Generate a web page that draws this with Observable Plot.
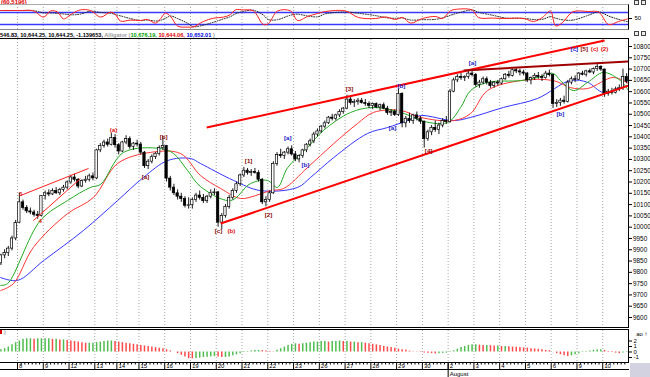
<!DOCTYPE html>
<html><head><meta charset="utf-8">
<script src="https://cdn.jsdelivr.net/npm/d3@7"></script>
<script src="https://cdn.jsdelivr.net/npm/@observablehq/plot@0.6"></script>
<style>
body{margin:0;background:#fff;width:650px;height:377px;overflow:hidden;position:relative;font-family:Arial,"Liberation Sans",sans-serif}
.p{position:absolute;left:0}
.b{position:absolute;box-sizing:border-box;pointer-events:none}
.ic{position:absolute;width:5px;height:5px;border:1px solid #444;box-sizing:border-box;background:#eee}
</style></head><body>
<div id="osc" class="p" style="top:0"></div>
<div class="p" style="top:-1px;left:1px;font:bold 6px Arial,sans-serif;color:#e00000;line-height:7px">(60.5196)</div>
<div class="p" style="top:31px;left:0;font:bold 5.6px Arial,'Liberation Sans',sans-serif;white-space:nowrap;line-height:8px;color:#000">546.83, 10,644.25, 10,644.25, -1.139653, <span style="color:#999">Alligator (</span><span style="color:#00a000">10,676.19,</span> <span style="color:#e00000">10,644.06,</span> <span style="color:#0000e0">10,652.01</span> <span style="color:#999">)</span></div>
<div id="main" class="p" style="top:39px"></div>
<div id="ao" class="p" style="top:328px"></div>
<div class="p" style="top:330px;left:0;width:2px;height:4px;background:#e00000"></div>
<div class="p" style="top:329px;left:4px;font:5px Arial;color:#666;line-height:6px">)</div>
<div class="b" style="top:4px;left:0;width:629px;height:26px;border-top:1px solid #aaa;border-bottom:1px solid #888;border-right:1px solid #000"></div>
<div class="b" style="top:38px;left:0;width:629px;height:290px;border-top:1px solid #000;border-bottom:1px solid #000;border-right:1px solid #000"></div>
<div class="b" style="top:329px;left:0;width:629px;height:34px;border-top:1px solid #000;border-bottom:1px solid #000;border-right:1px solid #000"></div>
<div class="b" style="top:369px;left:0;width:629px;height:1px;border-top:1px solid #000"></div>
<div class="b" style="top:363px;left:630px;width:20px;height:14px;background:#d2d2e0"></div>
<div class="ic" style="top:0;left:634px"></div><div class="ic" style="top:0;left:641px"></div>
<div class="ic" style="top:31px;left:634px"></div><div class="ic" style="top:31px;left:641px"></div>
<script>
// ---------- DATA ----------
const dayLabels = ["7","8","9","12","13","14","15","16","19","20","21","22","23","26","27","28","29","30","2","3","4","5","6","9","10"];
const monthStartDay = 18;            // index in dayLabels where August starts
const monthName = "August";

const opens = [
 [9743,9790,9840,9875,9885,9905,9950],
 [10020,10110,10085,10070,10065,10055,10050],
 [10138,10150,10145,10160,10150,10165,10175],
 [10198,10220,10210,10180,10205,10210,10225],
 [10216,10340,10360,10375,10365,10395],
 [10363,10335,10375,10390,10355,10370],
 [10366,10330,10270,10290,10310,10325,10350],
 [10359,10215,10175,10150,10135,10125,10095],
 [10097,10120,10140,10130,10115,10135,10150],
 [10154,10020,10050,10090,10130,10160,10190],
 [10229,10250,10240,10245,10240,10210,10110],
 [10120,10150,10280,10320,10315,10330,10345],
 [10322,10300,10315,10340,10365,10380,10410],
 [10424,10445,10460,10485,10480,10495,10510],
 [10525,10565,10550,10555,10560,10550,10545],
 [10537,10545,10530,10540,10525,10505,10510],
 [10497,10590,10460,10480,10470,10495,10480],
 [10467,10390,10420,10440,10430,10450,10470],
 [10466,10600,10650,10665,10660,10665,10680],
 [10674,10630,10640,10655,10640,10625,10640],
 [10636,10655,10675,10670,10695,10690,10685],
 [10680,10650,10660,10670,10665,10660,10680],
 [10674,10545,10550,10560,10555,10640,10655],
 [10653,10680,10675,10690,10685,10700,10710],
 [10698,10590,10600,10595,10610,10615,10665]
];
const highs = [
 [9800,9850,9880,9900,9915,9960,10030],
 [10150,10120,10095,10085,10075,10070,10140],
 [10160,10165,10170,10175,10172,10185,10205],
 [10230,10235,10215,10210,10225,10235,10240],
 [10345,10370,10385,10390,10415,10410],
 [10370,10380,10405,10400,10375,10385],
 [10375,10335,10300,10320,10330,10360,10400],
 [10362,10225,10190,10165,10150,10135,10130],
 [10130,10150,10160,10145,10140,10165,10170],
 [10158,10060,10100,10140,10170,10200,10235],
 [10265,10260,10255,10260,10250,10215,10135],
 [10160,10290,10330,10345,10335,10355,10360],
 [10335,10320,10345,10370,10390,10420,10435],
 [10450,10470,10490,10500,10500,10520,10530],
 [10584,10575,10565,10570,10570,10565,10555],
 [10550,10550,10545,10550,10535,10520,10520],
 [10610,10595,10490,10505,10500,10510,10490],
 [10470,10430,10450,10470,10460,10480,10490],
 [10610,10660,10675,10680,10670,10690,10695],
 [10680,10650,10665,10665,10650,10645,10650],
 [10660,10680,10690,10700,10705,10700,10695],
 [10685,10665,10680,10685,10675,10690,10695],
 [10676,10565,10570,10580,10650,10665,10670],
 [10685,10690,10695,10700,10705,10720,10715],
 [10700,10610,10615,10620,10630,10700,10680]
];
const lows = [
 [9735,9785,9830,9860,9870,9895,9940],
 [10015,10075,10060,10055,10045,10035,10045],
 [10120,10135,10140,10145,10140,10155,10165],
 [10190,10200,10170,10175,10195,10200,10205],
 [10210,10330,10350,10355,10360,10350],
 [10320,10330,10365,10345,10340,10355],
 [10320,10260,10255,10280,10300,10315,10340],
 [10200,10160,10140,10120,10110,10085,10080],
 [10080,10110,10120,10105,10105,10125,10140],
 [10000,9990,10040,10080,10120,10150,10180],
 [10220,10230,10225,10235,10200,10100,10090],
 [10110,10145,10270,10305,10300,10320,10315],
 [10290,10285,10305,10330,10355,10370,10400],
 [10415,10435,10455,10470,10470,10485,10500],
 [10520,10540,10530,10540,10545,10535,10525],
 [10520,10525,10515,10520,10495,10490,10490],
 [10490,10440,10440,10460,10455,10470,10455],
 [10350,10380,10405,10420,10410,10440,10455],
 [10460,10595,10640,10650,10645,10655,10665],
 [10620,10615,10630,10630,10615,10615,10625],
 [10630,10650,10660,10665,10680,10670,10670],
 [10640,10630,10650,10655,10645,10655,10665],
 [10525,10530,10535,10545,10550,10630,10640],
 [10650,10670,10665,10680,10675,10690,10690],
 [10575,10580,10585,10590,10600,10605,10635]
];
const closes = [
 [9790,9840,9875,9885,9905,9950,10018],
 [10110,10085,10070,10065,10055,10050,10138],
 [10150,10145,10160,10150,10165,10175,10198],
 [10220,10210,10180,10205,10210,10225,10216],
 [10340,10360,10375,10365,10395,10363],
 [10335,10375,10390,10355,10370,10366],
 [10330,10270,10290,10310,10325,10350,10359],
 [10215,10175,10150,10135,10125,10095,10097],
 [10120,10140,10130,10115,10135,10150,10154],
 [10020,10050,10090,10130,10160,10190,10229],
 [10250,10240,10245,10240,10210,10110,10120],
 [10150,10280,10320,10315,10330,10345,10322],
 [10300,10315,10340,10365,10380,10410,10424],
 [10445,10460,10485,10480,10495,10510,10525],
 [10565,10550,10555,10560,10550,10545,10537],
 [10545,10530,10540,10525,10505,10510,10497],
 [10590,10460,10480,10470,10495,10480,10467],
 [10390,10420,10440,10430,10450,10470,10466],
 [10600,10650,10665,10660,10665,10680,10674],
 [10630,10640,10655,10640,10625,10640,10636],
 [10655,10675,10670,10695,10690,10685,10680],
 [10650,10660,10670,10665,10660,10680,10674],
 [10545,10550,10560,10555,10640,10655,10653],
 [10680,10675,10690,10685,10700,10710,10698],
 [10590,10600,10595,10610,10615,10665,10644]
];
const aoValues = [
 [0.1,0.2,0.4,0.6,0.9,1.3,1.7],
 [2.0,2.3,2.4,2.4,2.3,2.4,2.4],
 [2.4,2.4,2.3,2.3,2.2,2.2,2.1],
 [2.0,1.9,1.8,1.7,1.6,1.6,1.6],
 [1.7,1.8,1.9,2.0,2.0,1.9],
 [1.8,1.7,1.6,1.5,1.4,1.3],
 [1.2,1.1,1.0,0.9,0.8,0.7,0.6],
 [0.4,0.2,0.0,-0.3,-0.6,-0.9,-1.2],
 [-1.25,-1.2,-1.1,-1.0,-0.95,-0.9,-0.85],
 [-0.9,-1.0,-1.0,-0.9,-0.7,-0.5,-0.3],
 [-0.1,0.1,0.2,0.25,0.3,0.25,0.2],
 [0.1,0.05,0.3,0.6,0.9,1.2,1.4],
 [1.5,1.4,1.5,1.6,1.7,1.8,1.8],
 [1.9,1.9,1.8,1.9,1.9,2.0,1.9],
 [1.9,1.8,1.8,1.7,1.7,1.6,1.5],
 [1.4,1.3,1.2,1.0,0.9,0.8,0.7],
 [0.5,0.4,0.3,0.15,0.05,-0.05,-0.1],
 [-0.2,-0.25,-0.3,-0.35,-0.3,-0.25,-0.2],
 [-0.1,0.2,0.5,0.8,1.0,1.2,1.3],
 [1.3,1.25,1.2,1.2,1.15,1.1,1.1],
 [1.0,1.0,0.95,0.9,0.85,0.8,0.75],
 [0.7,0.6,0.55,0.5,0.4,0.3,0.25],
 [0.0,-0.3,-0.5,-0.7,-0.8,-0.7,-0.5],
 [-0.3,-0.1,0.1,0.2,0.3,0.35,0.4],
 [0.3,0.1,-0.1,-0.2,-0.3,-0.2,-0.1]
];
// Alligator lines [bar position, price]
const jaw = [[-4.6,9777],[0,9764],[7.1,9852],[17.9,9985],[27.2,10118],[34.2,10220],[40.8,10295],[47.0,10304],[49.7,10282],[58.7,10207],[66.0,10162],[76.1,10176],[79.6,10220],[85.9,10308],[95.1,10415],[100.5,10441],[106.0,10472],[109.5,10494],[118.5,10472],[123.1,10486],[132.0,10530],[141.3,10570],[150.2,10649],[154.9,10641],[159.2,10596],[163.8,10618],[166,10627]];
const teeth = [[-4.6,9719],[-1.1,9750],[4.3,9910],[13.6,10060],[20.6,10131],[27.2,10282],[36.1,10331],[44.3,10326],[49.7,10229],[55.2,10171],[60.6,10127],[64.7,10140],[68.7,10162],[72.3,10171],[78.8,10264],[85.9,10370],[92.4,10459],[96.7,10508],[104.1,10517],[109.5,10486],[118.5,10472],[123.1,10503],[127.7,10605],[136.7,10649],[145.6,10649],[150.2,10618],[154.9,10614],[161.9,10663],[166,10636]];
const lips = [[-4.6,9742],[-2.7,9750],[6.2,10029],[13.6,10118],[19.8,10176],[22.6,10190],[28.8,10331],[38.9,10348],[42.4,10326],[46.2,10251],[49.7,10180],[57.9,10118],[63.3,10193],[67.9,10207],[70.6,10176],[73.4,10264],[78.8,10353],[83.1,10428],[90.5,10508],[96.7,10530],[104.1,10508],[107.6,10486],[109.5,10472],[116.8,10463],[120.4,10530],[123.1,10605],[127.7,10641],[136.7,10649],[141.3,10663],[145.6,10680],[147.5,10649],[151.1,10605],[154.9,10641],[159.2,10685],[163.8,10649],[166,10605]];
// Oscillator %K [bar position, value]
const osc = [[-4.6,90],[0.8,90],[4.3,88],[7.1,57],[9.0,88],[10.9,82],[12.5,48],[14.9,75],[17.1,93],[19.8,90],[22.6,57],[25.3,82],[26.6,70],[28.0,37],[30.7,42],[33.4,40],[35.3,45],[37.5,27],[38.9,50],[40.2,77],[41.6,60],[43.5,12],[46.2,7],[47.8,8],[50.5,35],[53.3,52],[56.0,57],[57.9,70],[59.2,93],[61.4,93],[64.1,88],[66.8,20],[68.2,25],[70.6,87],[74.2,88],[76.1,40],[78.8,60],[81.5,75],[83.7,85],[89.1,88],[92.6,55],[97.3,50],[100.0,58],[102.7,45],[104.6,55],[106.8,27],[110.0,50],[113.6,60],[115.5,50],[117.6,88],[119.8,97],[123.6,92],[125.2,55],[129.1,52],[132.6,50],[136.1,52],[138.0,48],[140.2,35],[142.6,55],[144.8,87],[146.2,13],[148.1,30],[150.8,83],[155.1,85],[157.9,82],[160.6,20],[163.3,35],[165.7,48]];
const oscLevels = [20, 80];
const oscTicks = [50];
const priceTicks = [10800,10750,10700,10650,10600,10550,10500,10450,10400,10350,10300,10250,10200,10150,10100,10050,10000,9950,9900,9850,9800,9750,9700,9650,9600];
const aoTicks = [2, 1, 0, -1];
// Trend lines [bar1, price1, bar2, price2, kind]
const trends = [
 [51.4,10441,159.5,10827,"channel"],
 [55.2,10016,166,10627,"channel"],
 [0.8,10140,19.3,10260,"thin"],
 [4.3,10029,17.1,10215,"thin"],
 [121.2,10694,166,10734,"dark"]
];
// Wave labels [text, bar, price, kind]
const waves = [
 ["3",0.8,10149,"r"],["4",6.2,10029,"r"],["(a)",26.1,10432,"r"],
 ["[a]",34.8,10220,"d"],["[b]",39.7,10397,"d"],["[c]",54.6,9981,"d"],["(b)",58.1,9981,"r"],
 ["[1]",62.8,10291,"d"],["[2]",68.2,10052,"d"],["[a]",73.4,10393,"b"],["[b]",78.2,10273,"b"],
 ["[3]",90.2,10610,"d"],["[a]",101.9,10437,"b"],["[b]",104.3,10623,"b"],["[4]",111.7,10335,"d"],
 ["[a]",123.6,10729,"b"],["[b]",147.5,10499,"b"],
 ["[c]",151.3,10791,"b"],["[5]",154.0,10791,"d"],["(c)",156.8,10791,"r"],["(2)",159.5,10791,"r"]
];

// ---------- BUILD ----------
const bars = [];
const days = [];
let idx = -7;
dayLabels.forEach((lab, d) => {
  days.push({i: idx, label: lab, d});
  opens[d].forEach((o, k) => {
    bars.push({i: idx, o, h: highs[d][k], l: lows[d][k], c: closes[d][k], ao: aoValues[d][k]});
    idx++;
  });
});
bars.forEach((b, j) => { b.up = j === 0 ? true : b.ao >= bars[j - 1].ao; });
const xDomain = [-4.62, idx];
const visDays = days.filter(d => d.i >= 0);
const dayStartSet = new Set(days.map(d => d.i));
const minorTicks = bars.map(b => b.i).filter(i => i > 0 && !dayStartSet.has(i));
const monthTick = days.filter(d => d.d === monthStartDay);

const font = "Arial, 'Liberation Sans', sans-serif";
const waveColor = {r: "#e01010", d: "#8b0a0a", b: "#1a1ac8"};
const trendStyle = {channel: ["#ff0000", 2], thin: ["#ff2020", 1], dark: ["#a00000", 2]};
const grid = {stroke: "#a8a8a8", strokeDasharray: "1,2", strokeWidth: 1};

// Oscillator panel
document.getElementById("osc").append(Plot.plot({
  width: 650, height: 31, marginTop: 4, marginBottom: 2, marginLeft: 0, marginRight: 22,
  style: {fontFamily: font, background: "transparent"},
  x: {domain: xDomain, range: [0, 628], axis: null},
  y: {domain: [-5, 120], range: [29, 4], axis: null},
  marks: [
    Plot.ruleX(visDays, {x: "i", ...grid}),
    Plot.ruleY(oscLevels, {stroke: "#3a3aff", strokeWidth: 1.3}),
    Plot.line(osc, Plot.windowY({k: 3, anchor: "end"}, {x: d => d[0], y: d => d[1], stroke: "#222", strokeWidth: 1, strokeDasharray: "1,1.5", curve: "catmull-rom", clip: true})),
    Plot.line(osc, {x: d => d[0], y: d => d[1], stroke: "#ff2020", strokeWidth: 1, curve: "catmull-rom", clip: true}),
    Plot.axisY(oscTicks, {anchor: "right", tickSize: 3, tickPadding: 3, fontSize: 6, tickFormat: d => String(d)})
  ]
}));

// Main price panel
document.getElementById("main").append(Plot.plot({
  width: 650, height: 288, marginTop: 0, marginBottom: 0, marginLeft: 0, marginRight: 22,
  style: {fontFamily: font, background: "transparent"},
  color: {type: "identity"},
  x: {domain: xDomain, range: [0, 628], axis: null},
  y: {domain: [9600, 10800], range: [278, 7], axis: null},
  marks: [
    Plot.ruleX(visDays, {x: "i", ...grid}),
    Plot.line(jaw, {x: d => d[0], y: d => d[1], stroke: "#3535ff", strokeWidth: 1, curve: "catmull-rom", clip: true}),
    Plot.line(teeth, {x: d => d[0], y: d => d[1], stroke: "#ff3535", strokeWidth: 1, curve: "catmull-rom", clip: true}),
    Plot.line(lips, {x: d => d[0], y: d => d[1], stroke: "#22aa22", strokeWidth: 1, curve: "catmull-rom", clip: true}),
    Plot.ruleX(bars, {x: d => d.i + 0.5, y1: "l", y2: "h", stroke: "#000", strokeWidth: 0.9, clip: true}),
    Plot.rect(bars, {x1: d => d.i + 0.18, x2: d => d.i + 0.82, y1: "o", y2: "c", fill: d => d.c >= d.o ? "#ffffff" : "#000000", stroke: "#000", strokeWidth: 0.7, clip: true}),
    Plot.link(trends, {x1: d => d[0], y1: d => d[1], x2: d => d[2], y2: d => d[3], stroke: d => trendStyle[d[4]][0], strokeWidth: d => trendStyle[d[4]][1], clip: true}),
    Plot.text(waves, {x: d => d[1], y: d => d[2], text: d => d[0], fill: d => waveColor[d[3]], fontSize: 6.2, fontWeight: "bold"}),
    Plot.axisY(priceTicks, {anchor: "right", tickSize: 3, tickPadding: 1.5, fontSize: 6.4, tickFormat: d => String(d)})
  ]
}));

// Awesome oscillator + date axis
document.getElementById("ao").append(Plot.plot({
  width: 650, height: 49, marginTop: 2, marginBottom: 15, marginLeft: 0, marginRight: 22,
  style: {fontFamily: font, background: "transparent", overflow: "visible"},
  color: {type: "identity"},
  x: {domain: xDomain, range: [0, 628], axis: null},
  y: {domain: [-1.91, 3.91], range: [34, 2], axis: null},
  marks: [
    Plot.ruleX(visDays, {x: "i", ...grid}),
    Plot.ruleX(bars, {x: d => d.i + 0.5, y1: 0, y2: "ao", stroke: d => d.up ? "#2fb02f" : "#ff2a2a", strokeWidth: 1.5, strokeOpacity: 0.85, clip: true}),
    Plot.axisY(aoTicks, {anchor: "right", tickSize: 3, tickPadding: 2, fontSize: 6, tickFormat: d => String(d)}),
    Plot.axisX(minorTicks, {anchor: "bottom", tickSize: 2.5, tickFormat: () => ""}),
    Plot.axisX(visDays.map(d => d.i), {anchor: "bottom", tickSize: 7, tickFormat: () => ""}),
    Plot.axisX(monthTick.map(d => d.i), {anchor: "bottom", tickSize: 15, tickFormat: () => ""}),
    Plot.text(visDays, {x: "i", text: "label", frameAnchor: "bottom", dy: 1.5, dx: 1.5, textAnchor: "start", lineAnchor: "top", fontSize: 6}),
    Plot.text(monthTick, {x: "i", text: () => monthName, frameAnchor: "bottom", dy: 9, dx: 1.5, textAnchor: "start", lineAnchor: "top", fontSize: 6})
  ]
}));
</script>
</body></html>
